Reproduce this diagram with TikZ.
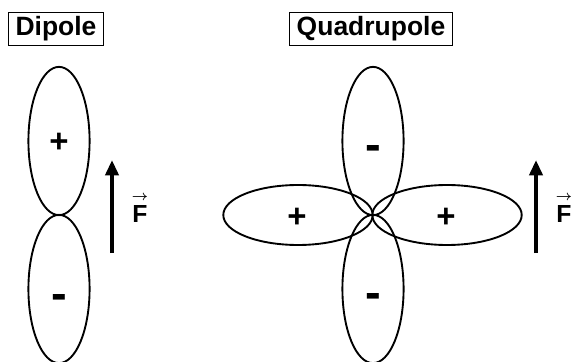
\documentclass[tikz,border=0pt]{standalone}
\usepackage{fontspec}
\setmainfont{Liberation Sans}
\usetikzlibrary{arrows.meta, shapes.geometric}

\begin{document}
\begin{tikzpicture}[
    x=0.85pt, y=-0.85pt,
    >={Triangle[length=13pt, width=11pt]},
    line width=1.6pt,
    lobe/.style={draw, ellipse, inner sep=0pt},
    vlobe/.style={lobe, minimum width=52pt, minimum height=126pt},
    hlobe/.style={lobe, minimum width=127pt, minimum height=51pt},
    plus/.style={inner sep=0pt, font=\fontsize{28}{32}\selectfont\bfseries},
    minus/.style={inner sep=0pt, font=\fontsize{40}{44}\selectfont\bfseries},
    title/.style={draw, line width=1.3pt, inner xsep=6pt, inner ysep=0pt,
      minimum height=28pt, font=\fontsize{22.5}{26}\selectfont\bfseries},
    force/.style={->, line width=3.4pt},
    flabel/.style={inner sep=0pt, font=\fontsize{21}{25}\selectfont\bfseries\boldmath},
  ]
  \useasboundingbox (0,0) rectangle (574,362);
  \newcommand{\forcetext}{\shortstack{{\fontsize{12}{12}\selectfont$\rightarrow$}\\[1pt]F}}

  % === Dipole ===
  \node[title] (dtitle) at (56,29) {Dipole};
  \node[vlobe] (dtop) at (59,141) {};
  \node[vlobe] (dbot) at (59,289) {};
  \node[plus] (dplus) at (59,143) {+};
  \node[minus] (dminus) at (59,302) {-};

  % force arrow
  \coordinate (dfrom) at (112,253);
  \coordinate (dto) at (112,160);
  \draw[force] (dfrom) -- (dto);
  \node[flabel] (dforce) at (140,209) {\forcetext};

  % === Quadrupole ===
  \node[title] (qtitle) at (371,29) {Quadrupole};
  \node[vlobe] (qtop) at (373,141) {};
  \node[vlobe] (qbot) at (373,289) {};
  \node[hlobe] (qleft) at (298,215) {};
  \node[hlobe] (qright) at (447,215) {};
  \node[minus] (qtminus) at (373,153) {-};
  \node[minus] (qbminus) at (373,301) {-};
  \node[plus] (qlplus) at (297,218) {+};
  \node[plus] (qrplus) at (446,218) {+};

  % force arrow
  \coordinate (qfrom) at (536,253);
  \coordinate (qto) at (536,160);
  \draw[force] (qfrom) -- (qto);
  \node[flabel] (qforce) at (564,209) {\forcetext};

\end{tikzpicture}
\end{document}
